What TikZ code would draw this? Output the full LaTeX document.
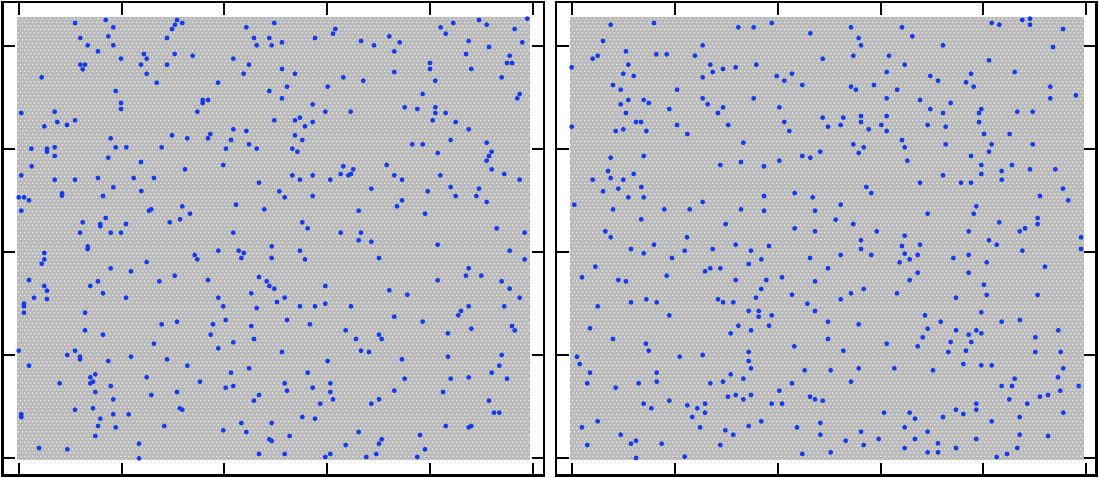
\documentclass[tikz,border=0pt]{standalone}
\usetikzlibrary{patterns}
\definecolor{latgray}{RGB}{186,186,186}
\definecolor{dotblue}{RGB}{18,58,250}
\pgfdeclarepatternformonly{latgaps}{\pgfpoint{0bp}{0bp}}{\pgfpoint{4bp}{6.928bp}}{\pgfpoint{4bp}{6.928bp}}{%
  \pgfpathcircle{\pgfpoint{1bp}{1.7bp}}{0.78bp}%
  \pgfpathcircle{\pgfpoint{3bp}{5.16bp}}{0.78bp}%
  \pgfusepath{fill}}
\tikzset{
  frame/.style={line width=2.4bp, black},
  tick/.style={line width=2bp, black},
  lattice/.style={fill=latgray, postaction={pattern=latgaps, pattern color=white}},
  bdot/.style={fill=dotblue},
}
\newcommand{\bluedots}[3]{%
  \begin{scope}[shift={(#1,#2)},x=0.333333bp,y=-0.333333bp]
    \foreach \a/\b in {#3}{\fill[bdot] (\a,\b) circle[radius=2.4bp];}
  \end{scope}}
\begin{document}
\begin{tikzpicture}[x=1bp,y=-1bp]
\useasboundingbox (0,0) rectangle (1100,478);
\fill[white] (0,0) rectangle (1100,478);
% lattices
\path[lattice] (17,17) rectangle (529.5,459.5);
\path[lattice] (570,17) rectangle (1083.5,459.5);
% blue dots, left panel
\bluedots{14}{14}{183/27, 275/18, 298/40, 489/18, 483/32, 505/27, 474/45, 459/72, 199/72, 283/67, 221/94, 298/94, 252/112, 321/134, 390/120, 398/134, 381/152, 482/120, 536/125, 459/152, 199/152, 213/152, 206/166, 83/190, 398/179, 428/206, 305/231, 321/267, 321/285, 566/258, 582/258, 566/267, 550/293, 612/206, 22/297, 122/293, 130/324, 159/333, 183/319, 91/337, 290/373, 474/364, 520/373, 582/373, 589/360, 658/346, 697/351, 651/378, 305/400, 337/400, 443/400, 52/404, 99/404, 99/413, 122/400, 122/426, 283/431, 381/444, 636/404, 705/391, 728/404, 781/27, 697/40, 720/72, 766/72, 728/94, 773/94, 804/85, 903/72, 957/59, 964/45, 658/134, 705/152, 689/179, 804/165, 843/179, 988/190, 1048/200, 941/218, 819/218, 766/231, 804/253, 896/271, 934/293, 1010/293, 781/319, 843/319, 858/311, 873/337, 896/324, 843/364, 865/378, 835/404, 850/413, 1041/81, 1080/94, 1126/67, 1157/85, 1141/112, 1141/174, 1248/147, 1248/165, 1264/200, 1226/240, 1172/280, 1210/285, 1264/280, 1264/297, 1295/297, 1256/319, 1325/324, 1364/346, 1310/378, 1195/391, 1226/391, 1271/417, 1418/386, 1433/413, 1425/426, 1418/440, 1280/40, 1295/59, 1318/27, 1395/18, 1418/32, 1502/45, 1540/14, 1364/81, 1425/99, 1525/85, 1356/120, 1487/125, 1479/147, 1494/147, 1372/165, 1463/190, 1517/240, 1510/253}
\bluedots{14}{162}{53/13, 628/9, 988/13, 1118/9, 22/40, 122/53, 183/53, 252/48, 359/48, 420/48, 513/22, 298/76, 382/87, 144/94, 144/101, 14/106, 30/106, 45/115, 267/102, 22/146, 405/146, 412/142, 505/133, 528/155, 467/181, 498/172, 206/181, 259/186, 259/193, 275/168, 336/186, 198/212, 290/212, 321/212, 221/253, 221/261, 91/273, 91/292, 83/305, 290/319, 351/328, 398/300, 542/279, 550/292, 613/266, 674/266, 689/273, 682/288, 658/212, 666/128, 751/142, 735/62, 796/88, 812/106, 835/40, 858/53, 896/40, 896/102, 949/53, 980/36, 1003/40, 1011/36, 1018/22, 1072/80, 1141/40, 1164/53, 1164/115, 1149/133, 1034/146, 865/181, 881/199, 980/212, 1041/212, 1034/235, 1072/239, 773/253, 858/266, 773/288, 873/292, 1095/288, 1233/155, 1241/88, 1279/40, 1310/75, 1325/102, 1395/80, 1387/102, 1418/120, 1433/22, 1471/36, 1517/53, 1448/199, 1532/212, 1271/248, 1487/266, 1532/292, 1364/319, 1356/341, 1402/341, 1271/355, 1463/358, 1487/380, 1517/407, 1471/433, 1364/433, 1341/447, 45/354, 91/372, 99/386, 60/407, 99/411, 30/425, 30/433, 229/372, 252/358, 267/394, 336/407, 436/358, 482/341, 582/354, 613/407, 628/433, 735/345, 758/358, 766/372, 781/380, 712/394, 728/438, 789/420, 812/407, 858/433, 903/433, 934/425, 934/372, 1011/433, 1126/385, 1180/398}
\bluedots{14}{310}{30/8, 213/8, 1333/16, 1141/20, 1226/35, 489/35, 443/43, 597/43, 635/30, 712/48, 819/30, 888/43, 213/61, 267/74, 590/74, 720/87, 658/97, 613/115, 420/101, 995/61, 1026/87, 1095/74, 1103/87, 1302/70, 1372/56, 1494/48, 1502/61, 14/122, 160/135, 183/122, 198/140, 198/148, 283/153, 351/140, 459/148, 520/167, 45/167, 804/126, 941/153, 1041/122, 1065/126, 1164/148, 1302/140, 1463/135, 1456/167, 651/188, 705/175, 881/188, 398/202, 558/215, 137/220, 229/202, 244/193, 229/220, 237/215, 290/228, 244/246, 298/268, 412/255, 489/246, 635/233, 658/228, 735/255, 720/272, 812/220, 819/242, 896/233, 949/220, 949/246, 957/268, 919/281, 1172/206, 1141/242, 1072/281, 1095/268, 1310/206, 1364/202, 1433/188, 1479/206, 1287/246, 1425/272, 1440/308, 1456/308, 183/299, 237/295, 22/313, 22/321, 259/326, 298/313, 344/313, 497/295, 505/299, 865/321, 903/326, 252/348, 305/352, 451/348, 628/361, 682/339, 697/366, 773/339, 1034/366, 1295/348, 1364/352, 1372/348, 244/378, 375/401, 75/414, 160/418, 766/388, 773/393, 827/378, 995/405, 1095/401, 1103/388, 1218/375, 1233/418, 735/432, 812/432, 949/432, 934/441, 1057/441, 1087/432, 1210/441, 375/445}
% blue dots, right panel
\bluedots{566}{14}{134/32, 264/27, 517/40, 563/40, 617/27, 733/58, 855/40, 1008/40, 878/72, 885/94, 1039/67, 1131/94, 1277/27, 1300/32, 1369/18, 1392/14, 1392/32, 1491/45, 1461/99, 111/81, 180/112, 95/125, 80/134, 17/160, 271/121, 302/121, 387/125, 410/94, 187/152, 172/179, 203/186, 433/152, 440/174, 471/165, 509/160, 571/152, 410/190, 770/134, 862/125, 969/125, 1016/152, 1269/139, 632/186, 655/200, 678/179, 709/213, 962/174, 1093/186, 1116/200, 1215/179, 1200/205, 1223/218, 1346/174, 1453/218, 1530/244, 1453/253, 141/213, 164/227, 333/227, 855/218, 870/227, 924/213, 993/227, 164/271, 187/258, 233/258, 248/267, 180/297, 310/285, 410/253, 425/271, 471/280, 456/297, 563/253, 640/280, 962/253, 1062/258, 1154/267, 1093/285, 1131/297, 1246/285, 1239/297, 1354/293, 1400/293, 17/338, 149/351, 172/346, 210/324, 225/324, 241/351, 333/333, 364/360, 487/333, 655/324, 670/351, 770/311, 786/338, 832/311, 824/333, 885/306, 885/324, 908/346, 946/333, 962/306, 962/351, 1085/333, 1139/338, 1239/324, 1254/360, 1331/360, 532/386, 862/391, 893/400, 878/417, 1008/378, 1016/400, 1139/391, 1277/391, 1269/413, 1400/391, 134/431, 233/426, 709/426, 733/431, 763/413, 640/440, 525/444, 1024/440, 1215/426}
\bluedots{566}{162}{463/9, 594/13, 1246/9, 1338/9, 126/27, 203/36, 80/53, 134/48, 172/53, 157/80, 226/75, 111/88, 187/106, 233/106, 25/128, 141/142, 295/142, 371/142, 410/120, 226/172, 594/102, 686/93, 740/106, 525/142, 594/146, 479/186, 747/146, 686/199, 747/208, 118/208, 134/226, 264/248, 195/261, 233/274, 363/226, 356/266, 318/288, 440/261, 509/248, 555/266, 609/252, 586/292, 548/306, 88/314, 48/346, 157/354, 180/358, 302/341, 417/328, 433/319, 463/319, 509/354, 601/354, 648/346, 586/381, 570/407, 456/412, 471/421, 502/421, 548/447, 578/447, 195/421, 241/412, 272/421, 95/433, 678/398, 724/425, 747/447, 747/358, 786/319, 732/288, 824/279, 824/412, 855/394, 893/381, 993/394, 1031/354, 1055/332, 1001/301, 1031/292, 1016/275, 1055/279, 885/261, 916/279, 885/235, 1016/221, 1008/252, 1062/248, 932/208, 862/186, 809/173, 824/128, 901/75, 916/93, 1062/62, 1131/40, 1185/62, 1215/62, 1246/36, 1307/27, 1307/53, 1392/22, 1468/22, 1491/80, 1422/102, 1507/115, 1231/133, 1223/155, 1085/155, 1300/181, 1415/168, 1415/186, 1361/208, 1377/199, 1208/208, 1269/235, 1292/248, 1369/266, 1208/279, 1162/288, 1262/301, 1437/314, 1208/332, 1254/368, 1262/399, 1415/399, 1170/407, 1246/451, 1545/226, 1545/261}
\bluedots{566}{310}{578/20, 617/16, 310/16, 72/55, 141/87, 240/101, 248/122, 517/47, 494/70, 555/61, 609/47, 786/35, 878/43, 786/87, 685/109, 832/122, 962/101, 1077/16, 1124/35, 1085/56, 1070/82, 1055/109, 1170/61, 1208/74, 1231/61, 1246/70, 1216/96, 1154/96, 1200/122, 1147/126, 1307/35, 1362/30, 1408/82, 1408/126, 1477/61, 1484/126, 33/140, 41/162, 72/188, 64/220, 149/233, 218/220, 272/188, 272/215, 341/140, 410/135, 548/126, 548/153, 555/175, 494/193, 532/206, 471/215, 433/220, 678/220, 716/181, 794/181, 878/175, 985/175, 855/215, 1101/181, 1192/162, 1246/166, 1277/166, 1346/206, 1307/228, 1338/228, 1476/202, 1492/175, 1483/242, 1538/228, 1422/260, 1446/255, 1330/268, 1384/281, 640/242, 486/260, 509/255, 532/268, 555/255, 617/281, 648/281, 732/260, 747/268, 770/272, 233/281, 256/295, 310/272, 364/286, 394/295, 417/281, 417/308, 379/321, 402/352, 95/334, 48/352, 164/374, 195/401, 210/392, 287/401, 463/405, 478/361, 502/374, 548/348, 586/334, 693/352, 763/339, 763/374, 954/308, 1031/308, 1047/326, 1016/352, 1085/365, 1131/321, 1170/299, 1192/312, 1231/281, 1231/299, 1277/334, 1361/321, 1492/308, 885/365, 938/387, 839/392, 893/405, 1047/387, 1116/400, 1231/387, 1361/374, 1446/378, 64/405, 210/444, 356/440, 709/432, 794/427, 1016/414, 1085/427, 1116/427, 1170/414, 1292/441, 1323/432, 1354/414}
% frames
\draw[frame] (2.5,2) rectangle (544,475.5);
\draw[frame] (556,2) rectangle (1096.5,475.5);
% ticks
\foreach \k in {0,...,5}{
  \pgfmathsetmacro\tx{18.7+102.8*\k}
  \draw[tick] (\tx,2) -- (\tx,15);
  \draw[tick] (\tx,475.5) -- (\tx,462.5);
  \pgfmathsetmacro\ux{572.1+102.8*\k}
  \draw[tick] (\ux,2) -- (\ux,15);
  \draw[tick] (\ux,475.5) -- (\ux,462.5);
}
\foreach \k in {0,...,4}{
  \pgfmathsetmacro\ty{46.5+102.75*\k}
  \draw[tick] (2.5,\ty) -- (15,\ty);
  \draw[tick] (544,\ty) -- (531.5,\ty);
  \draw[tick] (556,\ty) -- (568.5,\ty);
  \draw[tick] (1096.5,\ty) -- (1084,\ty);
}
\end{tikzpicture}
\end{document}
